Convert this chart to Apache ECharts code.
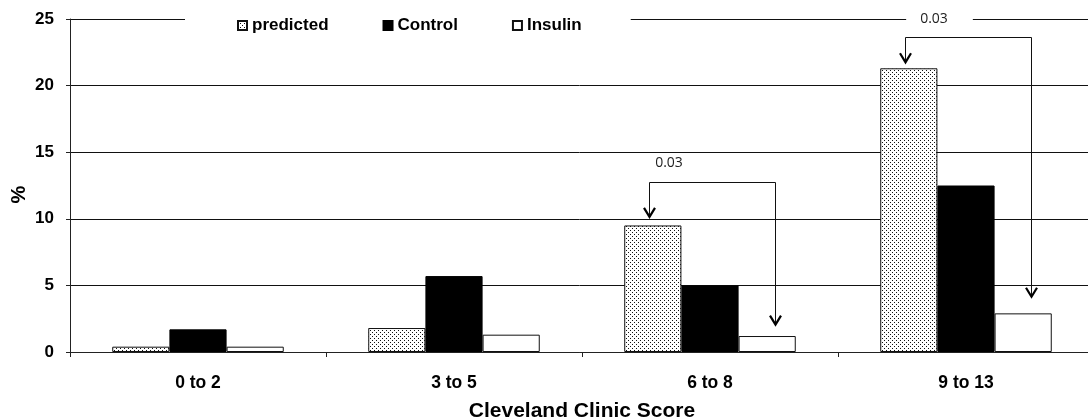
<!DOCTYPE html>
<html>
<head>
<meta charset="utf-8">
<script src="https://cdn.jsdelivr.net/npm/echarts@6/dist/echarts.min.js"></script>
<style>html,body{margin:0;padding:0;background:#fff}#c{width:1088px;height:418px}</style>
</head>
<body>
<div id="c"></div>
<script>
const categories = ['0 to 2', '3 to 5', '6 to 8', '9 to 13'];
const predicted = [0.4, 1.8, 9.5, 21.3];
const control = [1.7, 5.7, 5.0, 12.5];
const insulin = [0.4, 1.3, 1.2, 2.9];
// significance brackets: [categoryIndex, bracketTop, leftArrowTip, rightArrowTip, labelValue]
const brackets = [
  [2, 12.75, 10.15, 2.05, 14.2],
  [3, 23.65, 21.75, 4.15, 25.0]
];
const bracketLabels = ['0.03', '0.03'];

const FONT = 'Liberation Sans, Arial, sans-serif';
const GAP = 0.33;

const pc = document.createElement('canvas');
pc.width = 4; pc.height = 4;
const g = pc.getContext('2d');
g.fillStyle = '#fff'; g.fillRect(0, 0, 4, 4);
g.fillStyle = '#111';
g.fillRect(0, 0, 1, 1); g.fillRect(2, 2, 1, 1);
const dotted = { image: pc, repeat: 'repeat' };

const chart = echarts.init(document.getElementById('c'), null, { renderer: 'canvas' });

function renderBracket(params, api) {
  const cat = api.value(0);
  const catW = api.size([1, 0])[0];
  const barW = catW * (1 - GAP) / 3;
  const cx = api.coord([cat, 0])[0];
  const xl = Math.round(cx - barW - barW * 0.07) + 0.5;
  const xr = Math.round(cx + barW + barW * 0.14) + 0.5;
  const yTop = Math.round(api.coord([cat, api.value(1)])[1]) + 0.5;
  const yL = api.coord([cat, api.value(2)])[1];
  const yR = api.coord([cat, api.value(3)])[1];
  const yLab = api.coord([cat, api.value(4)])[1];
  const lab = bracketLabels[params.dataIndex];
  const labX = xl + (params.dataIndex === 0 ? 25 : 34);
  const lineStyle = { stroke: '#111', lineWidth: 1, fill: null };
  const arrowStyle = { stroke: '#000', lineWidth: 2.2, fill: null };
  return {
    type: 'group',
    children: [
      { type: 'polyline', shape: { points: [[xl, yL], [xl, yTop], [xr, yTop], [xr, yR]] }, style: lineStyle },
      { type: 'polyline', shape: { points: [[xl - 5.5, yL - 9], [xl, yL], [xl + 5.5, yL - 9]] }, style: arrowStyle },
      { type: 'polyline', shape: { points: [[xr - 5.5, yR - 9], [xr, yR], [xr + 5.5, yR - 9]] }, style: arrowStyle },
      { type: 'text', x: labX, y: yLab, style: {
          text: lab, fill: '#222', font: '14px "Open Sans", sans-serif',
          align: 'center', verticalAlign: 'middle',
          backgroundColor: '#fff', padding: [2, 25, 2, 14]
        } }
    ]
  };
}

const option = {
  backgroundColor: '#fff',
  animation: false,
  grid: { left: 70, right: -6, top: 19, bottom: 66, containLabel: false, outerBoundsMode: 'none' },
  legend: {
    data: ['predicted', 'Control', 'Insulin'],
    left: 185, top: 9,
    padding: [8, 49, 8, 52],
    backgroundColor: '#fff',
    itemGap: 54, itemWidth: 9, itemHeight: 9,
    icon: 'rect',
    textStyle: { fontFamily: FONT, fontWeight: 'bold', fontSize: 17, color: '#000' }
  },
  xAxis: {
    type: 'category', data: categories,
    axisLine: { lineStyle: { color: '#222', width: 1 } },
    axisTick: { show: true, length: 5, interval: 0, lineStyle: { color: '#222' } },
    axisLabel: { fontFamily: FONT, fontWeight: 'bold', fontSize: 17.5, color: '#000', margin: 22, interval: 0 },
    name: 'Cleveland Clinic Score', nameLocation: 'middle', nameGap: 49, nameMoveOverlap: false,
    nameTextStyle: { fontFamily: FONT, fontWeight: 'bold', fontSize: 21, color: '#000' }
  },
  yAxis: {
    type: 'value', min: 0, max: 25, interval: 5,
    axisLine: { show: true, lineStyle: { color: '#222', width: 1 } },
    axisTick: { show: true, length: 4, lineStyle: { color: '#222' } },
    splitLine: { show: true, lineStyle: { color: '#111', width: 1 } },
    axisLabel: { fontFamily: FONT, fontWeight: 'bold', fontSize: 17, color: '#000', margin: 16 },
    name: '%', nameLocation: 'middle', nameGap: 41, nameRotate: 90, nameMoveOverlap: false,
    nameTextStyle: { fontFamily: FONT, fontWeight: 'bold', fontSize: 20, color: '#000', padding: [0, 18, 0, 0] }
  },
  series: [
    { name: 'predicted', type: 'bar', data: predicted, barGap: '0%', barCategoryGap: '33%',
      itemStyle: { color: dotted, borderColor: '#111', borderWidth: 1 } },
    { name: 'Control', type: 'bar', data: control,
      itemStyle: { color: '#000', borderColor: '#000', borderWidth: 1 } },
    { name: 'Insulin', type: 'bar', data: insulin,
      itemStyle: { color: '#fff', borderColor: '#111', borderWidth: 1 } },
    { name: 'brackets', type: 'custom', data: brackets, renderItem: renderBracket,
      clip: false, z: 5, silent: true, encode: { x: 0, y: 1 } }
  ]
};
chart.setOption(option);
</script>
</body>
</html>
